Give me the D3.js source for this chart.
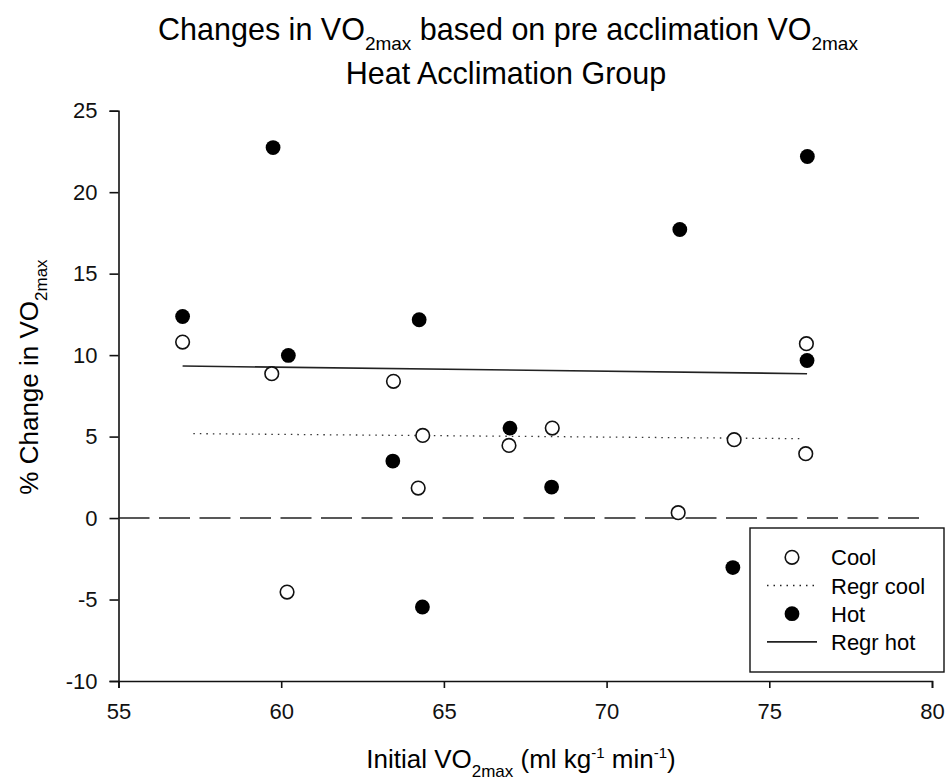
<!DOCTYPE html>
<html>
<head>
<meta charset="utf-8">
<script src="https://cdn.jsdelivr.net/npm/d3@7"></script>
<style>
  body { margin: 0; background: #fff; }
  svg { font-family: "Liberation Sans", Arial, sans-serif; }
</style>
</head>
<body>
<div id="chart"></div>
<script>
// values
var coolX = [56.97, 59.71, 63.45, 64.35, 64.21, 67.0, 68.33, 72.2, 73.92, 76.12, 76.14, 60.18];
var coolY = [10.8, 8.86, 8.39, 5.07, 1.84, 4.46, 5.52, 0.33, 4.81, 3.95, 10.7, -4.54];
var hotX = [56.97, 59.75, 60.22, 63.43, 64.24, 64.34, 67.03, 68.31, 72.25, 73.88, 76.17, 76.16];
var hotY = [12.37, 22.74, 9.98, 3.5, 12.17, -5.46, 5.52, 1.9, 17.71, -3.04, 22.19, 9.67];
var regrCoolX = [57.3, 76.05];
var regrCoolY = [5.18, 4.87];
var regrHotX = [56.97, 76.16];
var regrHotY = [9.33, 8.86];
var xTicks = [55, 60, 65, 70, 75, 80];
var yTicks = [-10, -5, 0, 5, 10, 15, 20, 25];

var width = 949, height = 783;

var svg = d3.select("#chart").append("svg")
    .attr("width", width)
    .attr("height", height);

var x = d3.scaleLinear().domain([55, 80]).range([118.5, 932]);
var y = d3.scaleLinear().domain([-10, 25]).range([681, 110.7]);

// title
var title = svg.append("text")
    .attr("x", 508).attr("y", 40)
    .attr("text-anchor", "middle")
    .style("font-size", "30.5px");
title.append("tspan").text("Changes in VO");
title.append("tspan").attr("dy", 10).style("font-size", "19px").text("2max");
title.append("tspan").attr("dy", -10).text(" based on pre acclimation VO");
title.append("tspan").attr("dy", 10).style("font-size", "19px").text("2max");

svg.append("text")
    .attr("x", 506).attr("y", 84)
    .attr("text-anchor", "middle")
    .style("font-size", "30.5px")
    .text("Heat Acclimation Group");

// axes
var fmt = function(d) { return String(d); };

var xAxis = svg.append("g")
    .attr("transform", "translate(0," + y(-10) + ")")
    .call(d3.axisBottom(x).tickValues(xTicks).tickFormat(fmt).tickSize(7).tickPadding(15));

var yAxis = svg.append("g")
    .attr("transform", "translate(" + x(55) + ",0)")
    .call(d3.axisLeft(y).tickValues(yTicks).tickFormat(fmt).tickSize(9).tickPadding(12));

[xAxis, yAxis].forEach(function(g) {
  g.selectAll("path, line").attr("stroke", "#111").attr("stroke-width", 1.6);
  g.selectAll("text").attr("fill", "#111").style("font-size", "22px")
      .style("font-family", "'Liberation Sans', Arial, sans-serif");
});

// axis titles
var xl = svg.append("text")
    .attr("x", 521).attr("y", 768)
    .attr("text-anchor", "middle")
    .style("font-size", "26px");
xl.append("tspan").text("Initial VO");
xl.append("tspan").attr("dy", 9).style("font-size", "17px").text("2max");
xl.append("tspan").attr("dy", -9).text(" (ml kg");
xl.append("tspan").attr("dy", -10).style("font-size", "15px").text("-1");
xl.append("tspan").attr("dy", 10).text(" min");
xl.append("tspan").attr("dy", -10).style("font-size", "15px").text("-1");
xl.append("tspan").attr("dy", 10).text(")");

var yl = svg.append("text")
    .attr("transform", "translate(38,377) rotate(-90)")
    .attr("text-anchor", "middle")
    .style("font-size", "26px");
yl.append("tspan").text("% Change in VO");
yl.append("tspan").attr("dy", 9).style("font-size", "17px").text("2max");

// zero reference line
svg.append("line")
    .attr("x1", x(55)).attr("x2", x(79.8))
    .attr("y1", y(0)).attr("y2", y(0))
    .attr("stroke", "#222").attr("stroke-width", 1.5)
    .attr("stroke-dasharray", "31,9.5");

// regression lines
var line = d3.line().x(function(d) { return x(d[0]); }).y(function(d) { return y(d[1]); });

svg.append("path")
    .datum(d3.zip(regrCoolX, regrCoolY))
    .attr("d", line)
    .attr("fill", "none")
    .attr("stroke", "#333").attr("stroke-width", 1.3)
    .attr("stroke-dasharray", "1.5,5");

svg.append("path")
    .datum(d3.zip(regrHotX, regrHotY))
    .attr("d", line)
    .attr("fill", "none")
    .attr("stroke", "#222").attr("stroke-width", 1.6);

// points
svg.selectAll("circle.cool")
    .data(d3.zip(coolX, coolY))
    .enter().append("circle")
    .attr("class", "cool")
    .attr("cx", function(d) { return x(d[0]); })
    .attr("cy", function(d) { return y(d[1]); })
    .attr("r", 6.8)
    .attr("fill", "#fff")
    .attr("stroke", "#111").attr("stroke-width", 1.6);

svg.selectAll("circle.hot")
    .data(d3.zip(hotX, hotY))
    .enter().append("circle")
    .attr("class", "hot")
    .attr("cx", function(d) { return x(d[0]); })
    .attr("cy", function(d) { return y(d[1]); })
    .attr("r", 7.4)
    .attr("fill", "#000");

// legend
var legend = svg.append("g").attr("transform", "translate(750,528)");
legend.append("rect")
    .attr("width", 194).attr("height", 144)
    .attr("fill", "#fff")
    .attr("stroke", "#111").attr("stroke-width", 1.4);

var items = ["Cool", "Regr cool", "Hot", "Regr hot"];
items.forEach(function(name, i) {
  var row = 29.3 + i * 28.2;
  if (name == "Cool") {
    legend.append("circle").attr("cx", 42).attr("cy", row).attr("r", 6.8)
        .attr("fill", "#fff").attr("stroke", "#111").attr("stroke-width", 1.6);
  } else if (name == "Hot") {
    legend.append("circle").attr("cx", 42).attr("cy", row).attr("r", 7.4).attr("fill", "#000");
  } else {
    legend.append("line").attr("x1", 17).attr("x2", 67).attr("y1", row).attr("y2", row)
        .attr("stroke", "#222")
        .attr("stroke-width", name == "Regr hot" ? 1.6 : 1.3)
        .attr("stroke-dasharray", name == "Regr hot" ? null : "1.5,5");
  }
  legend.append("text")
      .attr("x", 81).attr("y", row + 8)
      .style("font-size", "22px")
      .text(name);
});
</script>
</body>
</html>
